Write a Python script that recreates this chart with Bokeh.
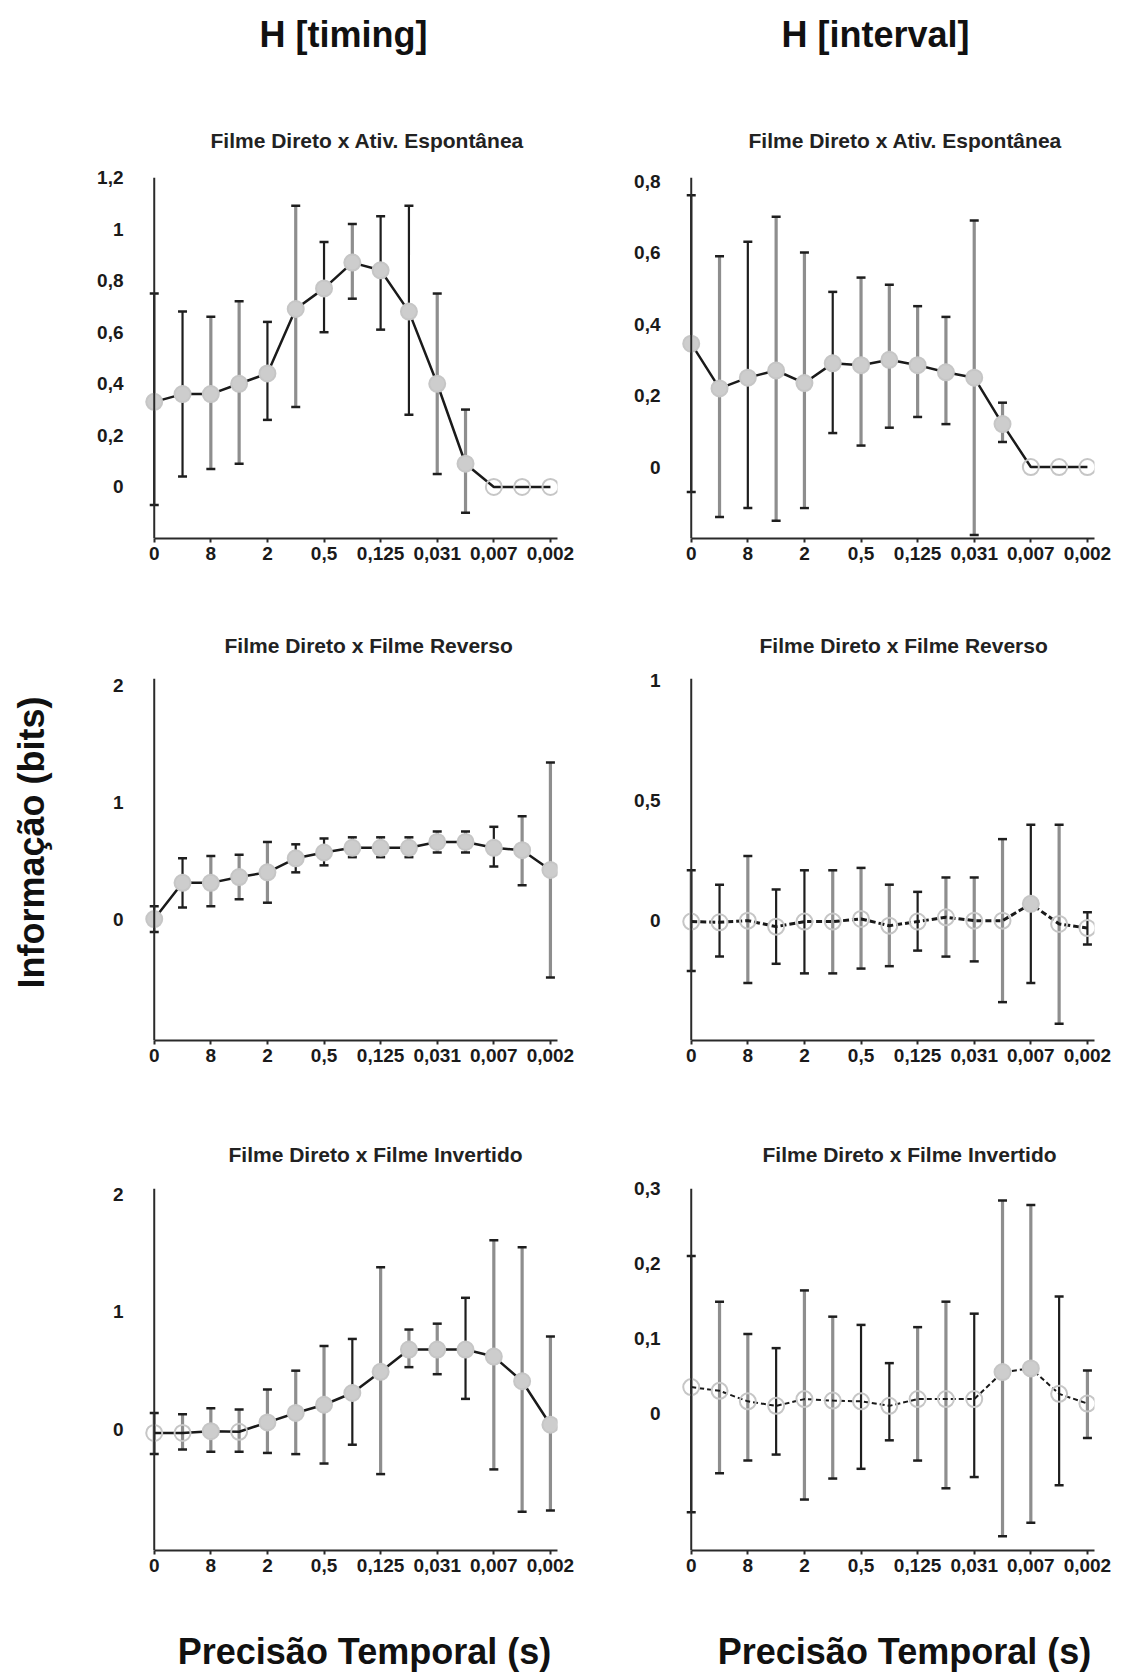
import math
import numpy as np
from bokeh.plotting import figure
from bokeh.layouts import column, row
from bokeh.models import ColumnDataSource, Range1d, FixedTicker, Span
from bokeh.core.properties import value
from bokeh.embed import file_html
from bokeh.resources import INLINE

# ---------------- data ----------------
x_index = list(range(15))
x_tick_pos = [0, 2, 4, 6, 8, 10, 12, 14]
x_tick_labels = ["0", "8", "2", "0,5", "0,125", "0,031", "0,007", "0,002"]

col_titles = ["H [timing]", "H [interval]"]
panel_titles = ["Filme Direto x Ativ. Espontânea", "Filme Direto x Ativ. Espontânea",
                "Filme Direto x Filme Reverso", "Filme Direto x Filme Reverso",
                "Filme Direto x Filme Invertido", "Filme Direto x Filme Invertido"]
y_label = "Informação (bits)"
x_label = "Precisão Temporal (s)"

N = None
# timing, espontanea
y1 = [0.33, 0.36, 0.36, 0.40, 0.44, 0.69, 0.77, 0.87, 0.84, 0.68, 0.40, 0.09, 0, 0, 0]
hi1 = [0.75, 0.68, 0.66, 0.72, 0.64, 1.09, 0.95, 1.02, 1.05, 1.09, 0.75, 0.30, N, N, N]
lo1 = [-0.07, 0.04, 0.07, 0.09, 0.26, 0.31, 0.60, 0.73, 0.61, 0.28, 0.05, -0.10, N, N, N]
# interval, espontanea
y2 = [0.345, 0.22, 0.25, 0.27, 0.235, 0.29, 0.285, 0.30, 0.285, 0.265, 0.25, 0.12, 0, 0, 0]
hi2 = [0.76, 0.59, 0.63, 0.70, 0.60, 0.49, 0.53, 0.51, 0.45, 0.42, 0.69, 0.18, N, N, N]
lo2 = [-0.07, -0.14, -0.115, -0.15, -0.115, 0.095, 0.06, 0.11, 0.14, 0.12, -0.19, 0.07, N, N, N]
# timing, reverso
y3 = [0.0, 0.31, 0.31, 0.36, 0.40, 0.52, 0.57, 0.61, 0.61, 0.61, 0.66, 0.66, 0.61, 0.59, 0.42]
hi3 = [0.11, 0.52, 0.54, 0.55, 0.66, 0.64, 0.69, 0.70, 0.70, 0.70, 0.75, 0.75, 0.79, 0.88, 1.34]
lo3 = [-0.11, 0.10, 0.11, 0.17, 0.14, 0.40, 0.46, 0.53, 0.53, 0.53, 0.57, 0.57, 0.45, 0.29, -0.50]
# interval, reverso
y4 = [-0.004, -0.007, 0.0, -0.025, -0.004, -0.004, 0.007, -0.021, -0.004, 0.014, 0.0, 0.0, 0.07, -0.014, -0.031]
hi4 = [0.21, 0.15, 0.27, 0.13, 0.21, 0.21, 0.22, 0.15, 0.12, 0.18, 0.18, 0.34, 0.40, 0.40, 0.035]
lo4 = [-0.21, -0.15, -0.26, -0.18, -0.22, -0.22, -0.20, -0.19, -0.125, -0.15, -0.17, -0.34, -0.26, -0.43, -0.10]
# timing, invertido
y5 = [-0.03, -0.03, -0.015, -0.02, 0.06, 0.14, 0.21, 0.31, 0.49, 0.68, 0.68, 0.68, 0.62, 0.41, 0.04]
hi5 = [0.14, 0.13, 0.18, 0.17, 0.34, 0.50, 0.71, 0.77, 1.38, 0.85, 0.90, 1.12, 1.61, 1.55, 0.79]
lo5 = [-0.21, -0.17, -0.19, -0.19, -0.20, -0.21, -0.29, -0.13, -0.38, 0.53, 0.47, 0.26, -0.34, -0.70, -0.69]
# interval, invertido
y6 = [0.035, 0.030, 0.016, 0.010, 0.019, 0.017, 0.016, 0.010, 0.019, 0.019, 0.019, 0.055, 0.060, 0.026, 0.013]
hi6 = [0.21, 0.149, 0.106, 0.087, 0.164, 0.129, 0.118, 0.067, 0.115, 0.149, 0.133, 0.284, 0.278, 0.156, 0.057]
lo6 = [-0.132, -0.08, -0.063, -0.055, -0.115, -0.087, -0.074, -0.036, -0.063, -0.10, -0.085, -0.164, -0.146, -0.096, -0.033]

y_ticks = [[0, 0.2, 0.4, 0.6, 0.8, 1.0, 1.2], [0, 0.2, 0.4, 0.6, 0.8],
           [0, 1, 2], [0, 0.5, 1],
           [0, 1, 2], [0, 0.1, 0.2, 0.3]]
y_tick_labels = [["0", "0,2", "0,4", "0,6", "0,8", "1", "1,2"], ["0", "0,2", "0,4", "0,6", "0,8"],
                 ["0", "1", "2"], ["0", "0,5", "1"],
                 ["0", "1", "2"], ["0", "0,1", "0,2", "0,3"]]

# ---------------- styles ----------------
y_ranges = [(-0.2, 1.2), (-0.2, 0.81), (-1.04, 2.06), (-0.5, 1.01), (-1.03, 2.05), (-0.183, 0.30)]
bar_styles = ["kkggkgkgkkgg---", "kgkggkggggggg--",
              "kkgggkkgggggkgg", "gkgkkgggkgggkgk",
              "gggggggkgggkggg", "kggkggkkggkggkg"]
filled = ["111111111111000", "111111111111000",
          "111111111111111", "000000000000100",
          "001011111111111", "000000000001100"]
line_dash = ["solid", "solid", "solid", "6 3", "solid", "5 3"]
line_w = [2.5, 2.5, 2.5, 3, 2.5, 2]
title_standoff = [52, 52, 44, 44, 46, 46]
title_left = [69, 70, 83, 81, 87, 84]

FONT = "Liberation Sans"
GRAY = "#8e8e8e"
BLACK = "#1e1e1e"
MARK = "#cdcdcd"
AXIS = "#2a2a2a"

series = [(y1, lo1, hi1), (y2, lo2, hi2), (y3, lo3, hi3),
          (y4, lo4, hi4), (y5, lo5, hi5), (y6, lo6, hi6)]

HEAD_H = 90
FOOT_H = 73
YLAB_W = 60
row_h = [510, 510, 490]
row_top = [87, 78, 78]
row_bot = [62, 70, 50]


def blank_fig(w, h):
    f = figure(width=w, height=h, x_range=Range1d(0, w), y_range=Range1d(h, 0),
               output_backend="svg", toolbar_location=None,
               x_axis_location=None, y_axis_location=None,
               min_border=0, min_border_left=0, min_border_right=0,
               min_border_top=0, min_border_bottom=0)
    f.outline_line_color = None
    f.xgrid.visible = False
    f.ygrid.visible = False
    return f


def make_panel(i):
    left = (i % 2 == 0)
    r = i // 2
    ylo, yhi = y_ranges[i]
    p = figure(width=520 if left else 542, height=row_h[r],
               x_range=Range1d(-0.45, 14.25), y_range=Range1d(ylo, yhi),
               output_backend="svg", toolbar_location=None,
               min_border_left=81 if left else 98,
               min_border_right=23 if left else 28,
               min_border_top=row_top[r], min_border_bottom=row_bot[r])
    p.outline_line_color = None
    p.xgrid.grid_line_color = None
    p.ygrid.grid_line_color = None

    p.title.text = panel_titles[i]
    p.title.align = "left"
    p.title.offset = title_left[i]
    p.title.text_font = FONT
    p.title.text_font_style = "bold"
    p.title.text_font_size = "21px"
    p.title.text_color = "#222222"
    p.title.standoff = title_standoff[i]

    yv, lo, hi = series[i]
    lo_a = np.array(lo, dtype=float)
    hi_a = np.array(hi, dtype=float)
    colors = [GRAY if c == "g" else BLACK for c in bar_styles[i]]
    widths = [3.2 if c == "g" else 2.2 for c in bar_styles[i]]
    fa = [1.0 if c == "1" else 0.0 for c in filled[i]]
    src = ColumnDataSource(dict(x=x_index, y=yv, lo=lo_a, hi=hi_a,
                                bc=colors, bw=widths, fa=fa))

    # y axis line at the first precision step
    p.add_layout(Span(location=0, dimension="height", line_color=AXIS, line_width=2))

    p.segment(x0="x", y0="lo", x1="x", y1="hi", source=src,
              line_color="bc", line_width="bw")
    p.scatter(x="x", y="hi", source=src, marker="dash", size=9,
              line_color=BLACK, line_width=2.5)
    p.scatter(x="x", y="lo", source=src, marker="dash", size=9,
              line_color=BLACK, line_width=2.5)
    p.line(x="x", y="y", source=src, line_color="#1a1a1a",
           line_width=line_w[i], line_dash=line_dash[i])
    p.scatter(x="x", y="y", source=src, marker="circle", size=16,
              fill_color=MARK, fill_alpha="fa", line_color="#c6c6c6", line_width=2)

    xa = p.xaxis[0]
    xa.ticker = FixedTicker(ticks=x_tick_pos)
    xa.major_label_overrides = {t: l for t, l in zip(x_tick_pos, x_tick_labels)}
    xa.bounds = (0, 14.25)
    xa.axis_line_width = 2
    xa.axis_line_color = AXIS
    xa.major_tick_line_width = 2
    xa.major_tick_line_color = AXIS
    xa.major_tick_out = 4
    xa.major_tick_in = 0
    xa.major_label_standoff = 4

    ya = p.yaxis[0]
    ya.ticker = FixedTicker(ticks=y_ticks[i])
    ya.major_label_overrides = {t: l for t, l in zip(y_ticks[i], y_tick_labels[i])}
    ya.axis_line_color = None
    ya.major_tick_line_color = None
    ya.major_tick_out = 0
    ya.major_tick_in = 0
    ya.major_label_standoff = 18

    for ax in (xa, ya):
        ax.minor_tick_line_color = None
        ax.major_label_text_font = FONT
        ax.major_label_text_font_style = "bold"
        ax.major_label_text_font_size = "19px"
        ax.major_label_text_color = "#1a1a1a"
    return p


panels = [make_panel(i) for i in range(6)]

TXT = dict(text_align="center", text_baseline="middle", text_font=value(FONT),
           text_font_style=value("bold"), text_font_size=value("36px"), text_color="#111111")

# column headers
head = blank_fig(1122, HEAD_H)
head.text(x=[343, 875], y=[34, 34], text=col_titles, **TXT)

# shared y label
mid_h = sum(row_h)
ylab = blank_fig(YLAB_W, mid_h)
ylab.text(x=[31], y=[842 - HEAD_H], text=[y_label], angle=math.pi / 2, **TXT)

# x labels
foot = blank_fig(1122, FOOT_H)
foot.text(x=[364, 904], y=[51, 51], text=[x_label, x_label], **TXT)

grid = column(row(panels[0], panels[1]), row(panels[2], panels[3]), row(panels[4], panels[5]))
layout = column(head, row(ylab, grid), foot)

open("out.html", "w").write(file_html(layout, INLINE))
